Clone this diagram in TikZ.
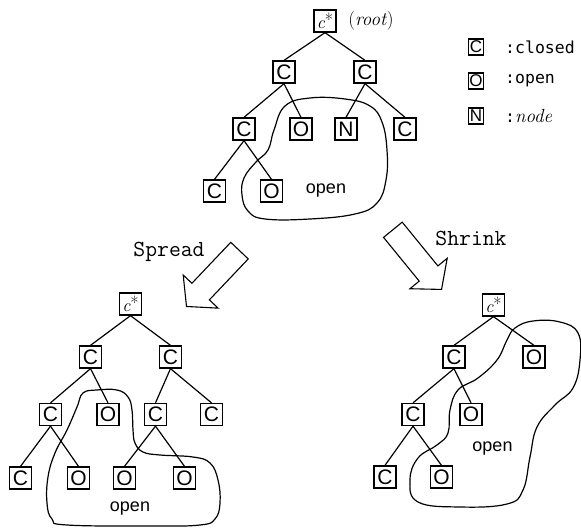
\documentclass[tikz,border=0pt]{standalone}
\usepackage{fontspec}
\setsansfont{Liberation Sans}
\newfontfamily\keyfont{DejaVu Sans Mono}
\usetikzlibrary{shapes.arrows}

\newcommand{\cstar}{{\rmfamily\fontsize{18}{18}\selectfont\itshape c\raisebox{0.3ex}{\upshape *}}}

\begin{document}
\begin{tikzpicture}[
    x=1pt, y=-1pt,
    box/.style={rectangle, draw, line width=1.3pt, minimum size=22pt, inner sep=0pt, font=\sffamily\fontsize{21}{21}\selectfont},
    keybox/.style={rectangle, draw, line width=1.2pt, minimum width=15pt, minimum height=16pt, inner sep=0pt, font=\sffamily\fontsize{17}{17}\selectfont},
    keytext/.style={anchor=west, inner sep=0pt, font=\keyfont\fontsize{16.5}{16.5}\selectfont},
    link/.style={line width=1.2pt},
    openarea/.style={line width=1.2pt, smooth cycle, tension=0.7},
    opentext/.style={font=\sffamily\fontsize{18}{18}\selectfont},
    bigarrow/.style={single arrow, draw, line width=1.1pt, minimum height=77pt, single arrow head extend=12pt, single arrow tip angle=99, inner sep=11.5pt},
    movetext/.style={anchor=base, font=\ttfamily\fontsize{23}{23}\selectfont}
]
    \useasboundingbox (0,0) rectangle (581,529);

    % top tree
    \node[box] (root) at (325,21) {\cstar};
    \node[font=\rmfamily\fontsize{19}{19}\selectfont] (rootnote) at (371,21) {(\textit{root})};
    \node[box] (tc1) at (284,72) {C};
    \node[box] (tc2) at (365,72) {C};
    \node[box] (tc3) at (244,129) {C};
    \node[box] (to1) at (301,129) {O};
    \node[box] (tn) at (346,129) {N};
    \node[box] (tc4) at (405,129) {C};
    \node[box] (tc5) at (214.5,191) {C};
    \node[box] (to2) at (271.5,191) {O};
    \foreach \p/\c in {root/tc1, root/tc2, tc1/tc3, tc1/to1, tc2/tn, tc2/tc4, tc3/tc5, tc3/to2}
        \draw[link] (\p.south) -- (\c.north);
    \draw[openarea] plot coordinates {(285,106) (310,98) (345,99) (370,106) (382,122) (387,150) (386,180) (377,203) (355,214) (310,219) (265,219) (248,211) (242,195) (244,178) (256,162) (268,150) (274,130)};
    \node[opentext] (topopen) at (326,191) {open};

    % legend
    \node[keybox] (keyc) at (476,47) {C};
    \node[keybox] (keyo) at (476,81) {O};
    \node[keybox] (keyn) at (476,116) {N};
    \node[keytext] (keyctext) at (505,47) {:closed};
    \node[keytext] (keyotext) at (505,81) {:open};
    \node[keytext] (keyntext) at (505,116) {:\fontsize{19}{19}\selectfont\rmfamily\itshape node};

    % arrows
    \node[bigarrow, rotate=226.5, anchor=tip] (spread) at (186,307) {};
    \node[bigarrow, rotate=-50.8, anchor=tip] (shrink) at (442,290) {};
    \node[movetext] (spreadtext) at (169,257) {Spread};
    \node[movetext] (shrinktext) at (471,246) {Shrink};

    % spread tree
    \node[box] (lroot) at (130.5,304) {\cstar};
    \node[box] (lc1) at (90.5,357) {C};
    \node[box] (lc2) at (170.5,357) {C};
    \node[box] (lc3) at (50.5,414.5) {C};
    \node[box] (lo1) at (108,414.5) {O};
    \node[box] (lc4) at (155.5,414.5) {C};
    \node[box] (lc5) at (211.5,414.5) {C};
    \node[box] (lc6) at (20.5,478) {C};
    \node[box] (lo2) at (78.5,478) {O};
    \node[box] (lo3) at (124.5,478) {O};
    \node[box] (lo4) at (184.5,478) {O};
    \foreach \p/\c in {lroot/lc1, lroot/lc2, lc1/lc3, lc1/lo1, lc2/lc4, lc2/lc5, lc3/lc6, lc3/lo2, lc4/lo3, lc4/lo4}
        \draw[link] (\p.south) -- (\c.north);
    \draw[openarea] plot coordinates {(83,393) (97,390) (117,390) (128,397) (132,410) (133,430) (135,443) (143,452) (160,455) (193,457) (210,463) (218,480) (220,503) (215,519) (200,525) (153,526) (67,525) (52,519) (47,503) (48,477) (55,453) (67,430) (77,407)};
    \node[opentext] (leftopen) at (130,509) {open};

    % shrink tree
    \node[box] (rroot) at (493.5,305) {\cstar};
    \node[box] (rc1) at (454,357) {C};
    \node[box] (ro1) at (534,357) {O};
    \node[box] (rc2) at (413,414.5) {C};
    \node[box] (ro2) at (471,414.5) {O};
    \node[box] (rc3) at (385,477) {C};
    \node[box] (ro3) at (441.5,477) {O};
    \foreach \p/\c in {rroot/rc1, rroot/ro1, rc1/rc2, rc1/ro2, rc2/rc3, rc2/ro3}
        \draw[link] (\p.south) -- (\c.north);
    \draw[openarea] plot coordinates {(515,328) (533,321) (560,322) (578,333) (580,360) (573,388) (555,405) (537,427) (530,457) (523,490) (507,504) (460,507) (418,502) (410,480) (418,458) (437,445) (448,433) (450,410) (458,390) (478,378) (497,360) (507,340)};
    \node[opentext] (rightopen) at (492.5,449) {open};
\end{tikzpicture}
\end{document}
